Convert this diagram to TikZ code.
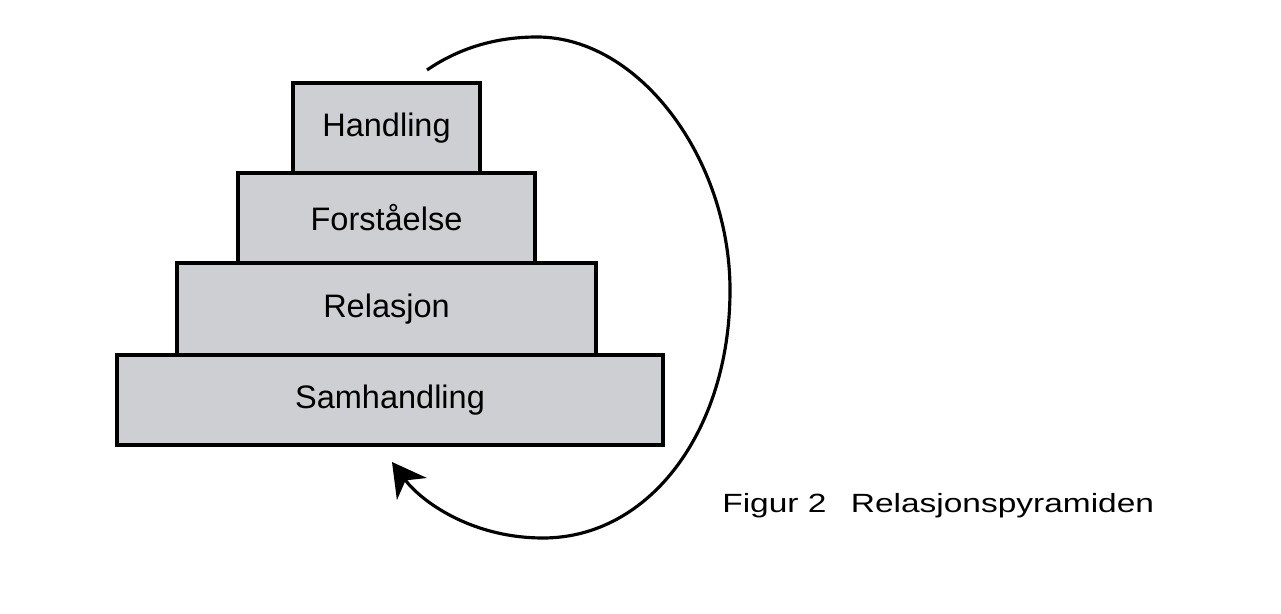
\documentclass[tikz,border=0pt]{standalone}
\usepackage{fontspec}
\setmainfont{Liberation Sans}
\usetikzlibrary{arrows.meta}
\definecolor{boxfill}{RGB}{206,207,211}
\tikzset{
  tier/.style={draw=black, line width=1.8pt, fill=boxfill, inner sep=0pt,
    font=\fontsize{18.5}{20}\selectfont},
  cycle/.style={line width=1.8pt, -{Stealth[length=19pt,width=21pt,inset=6pt]}}
}
\begin{document}
\begin{tikzpicture}[x=0.02cm,y=-0.02cm]
\useasboundingbox (0,0) rectangle (1281,614);
\fill[white] (0,0) rectangle (1281,614);
% tiers (pixel coordinates)
\node[tier, minimum width=546*0.02cm, minimum height=90*0.02cm] (samh) at (390,400) {Samhandling};
\node[tier, minimum width=419*0.02cm, minimum height=92*0.02cm] (rel) at (386.5,309) {Relasjon};
\node[tier, minimum width=297*0.02cm, minimum height=90*0.02cm] (forst) at (386.5,218) {Forståelse};
\node[tier, minimum width=187*0.02cm, minimum height=90*0.02cm] (hand) at (386.5,128) {Handling};
% circular arrow
\coordinate (start) at (427,70);
\coordinate (top) at (537,37);
\coordinate (right) at (730,290);
\coordinate (bottom) at (543,538);
\coordinate (stop) at (392,462);
\draw[cycle] (start) .. controls (462,46) and (500,37) .. (top)
  .. controls (640,37) and (730,160) .. (right)
  .. controls (730,430) and (650,538) .. (bottom)
  .. controls (470,538) and (420,500) .. (stop);
% caption
\node[anchor=base west, inner sep=0pt, font=\fontsize{15}{17}\selectfont] (cap) at (722,513)
  {\scalebox{1.27}[1]{Figur 2\hspace{0.45em} Relasjonspyramiden}};
\end{tikzpicture}
\end{document}
